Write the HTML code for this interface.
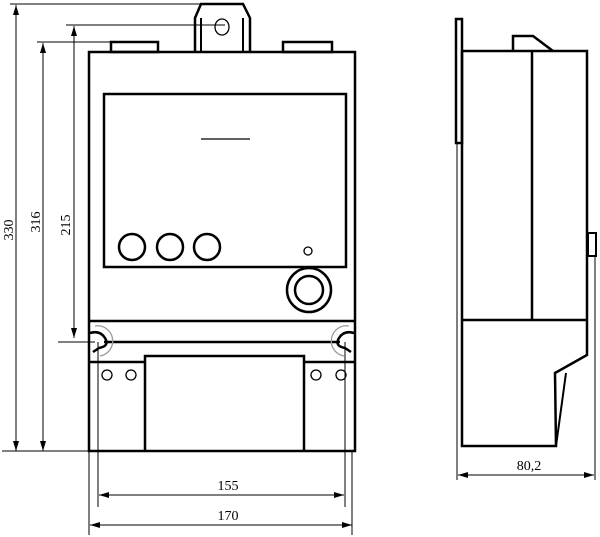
<!DOCTYPE html>
<html><head><style>body{margin:0;background:#fff}svg{display:block}</style></head><body>
<svg width="600" height="537" viewBox="0 0 600 537" xmlns="http://www.w3.org/2000/svg" font-family="Liberation Serif, serif">
<defs><marker id="a" viewBox="0 0 10 6" refX="10" refY="3" markerWidth="10" markerHeight="6" orient="auto-start-reverse" markerUnits="userSpaceOnUse"><path d="M0,0L10,3L0,6z" fill="#000"/></marker></defs>
<g fill="none" stroke="#000" stroke-width="2.5">
<!-- front -->
<rect x="89" y="52" width="266" height="399"/>
<rect x="111" y="42" width="47" height="10"/>
<rect x="283" y="42" width="49" height="10"/>
<path d="M195,52V18L201,4H243L250,18V52"/>
<path d="M201,52V18M243,52V18" stroke-width="2"/>
<rect x="104" y="94" width="242" height="173"/>
<circle cx="132" cy="247" r="13"/><circle cx="170" cy="247" r="13"/><circle cx="207" cy="247" r="13"/>
<circle cx="309" cy="290" r="22"/><circle cx="309" cy="290" r="14"/>
<path d="M89,321H355M104,342H340M89,362H145M304,362H355"/>
<path d="M145,451V356H304V451"/>
</g>
<g fill="none" stroke="#000" stroke-width="1.3">
<line x1="201" y1="139" x2="250" y2="139"/>
<ellipse cx="222" cy="27" rx="7" ry="8"/>
<circle cx="308" cy="251" r="4"/>
<circle cx="107" cy="375" r="5"/><circle cx="131" cy="375" r="5"/><circle cx="316" cy="375" r="5"/><circle cx="341" cy="375" r="5"/>
<path d="M90,333Q100,330 105,338Q110,346 99,348L93,352" stroke-width="2.5"/>
<path d="M354,333Q344,330 339,338Q334,346 345,348L351,352" stroke-width="2.5"/>
<path d="M95,326A15,15 0 0 1 100,356" stroke="#999"/>
<path d="M349,326A15,15 0 0 0 344,356" stroke="#999"/>
</g>
<!-- dims -->
<g stroke="#000" stroke-width="1" fill="none">
<line x1="10" y1="4" x2="200" y2="4"/><line x1="37" y1="42" x2="110" y2="42"/><line x1="66" y1="25" x2="225" y2="25"/>
<line x1="58" y1="342" x2="95" y2="342"/><line x1="2" y1="451" x2="90" y2="451"/>
<line x1="16" y1="451" x2="16" y2="5" marker-end="url(#a)" marker-start="url(#a)"/>
<line x1="43" y1="451" x2="43" y2="43" marker-end="url(#a)" marker-start="url(#a)"/>
<line x1="74" y1="338" x2="74" y2="26" marker-end="url(#a)" marker-start="url(#a)"/>
<line x1="89" y1="451" x2="89" y2="535"/><line x1="352" y1="451" x2="352" y2="535"/>
<line x1="98" y1="342" x2="98" y2="507"/><line x1="345" y1="342" x2="345" y2="507"/>
<line x1="99" y1="495" x2="344" y2="495" marker-end="url(#a)" marker-start="url(#a)"/>
<line x1="90" y1="525" x2="352" y2="525" marker-end="url(#a)" marker-start="url(#a)"/>
<line x1="457" y1="143" x2="457" y2="480"/><line x1="595" y1="256" x2="595" y2="480"/>
<line x1="458" y1="475" x2="594" y2="475" marker-end="url(#a)" marker-start="url(#a)"/>
</g>
<g font-size="14" fill="#000" text-anchor="middle">
<text transform="translate(13,230) rotate(-90)">330</text>
<text transform="translate(40,222) rotate(-90)">316</text>
<text transform="translate(70,225) rotate(-90)">215</text>
<text x="228" y="490">155</text>
<text x="228" y="520">170</text>
<text x="529" y="470">80,2</text>
</g>
<!-- side -->
<g fill="none" stroke="#000" stroke-width="2.5">
<rect x="456" y="19" width="6" height="124"/>
<path d="M462,51H587V355L555,373L556,446H462V51"/>
<path d="M462,320H587M532,51V320"/>
<path d="M513,51V36H533L553,51"/>
<path d="M566,373L556,446" stroke-width="2"/>
<rect x="588" y="233" width="8" height="23" stroke-width="2"/>
</g>
</svg>
</body></html>
